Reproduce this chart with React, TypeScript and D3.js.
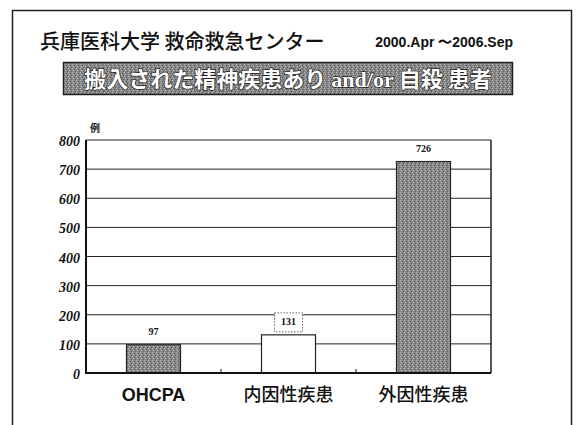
import React from 'react';
import * as d3 from 'd3';

const categories = ['OHCPA', '内因性疾患', '外因性疾患'];
const values = [97, 131, 726];
const barFills = ['#8e8e8e', '#ffffff', '#8e8e8e'];
const yTicks = [0, 100, 200, 300, 400, 500, 600, 700, 800];

const W = 577;
const H = 425;
const plot = { left: 86, right: 491, top: 140, bottom: 373 };

const App: React.FC = () => {
  const x = d3.scaleBand<string>()
    .domain(categories)
    .range([plot.left, plot.right])
    .paddingInner(0.6)
    .paddingOuter(0.3);

  const band = d3.scaleBand<string>()
    .domain(categories)
    .range([plot.left, plot.right]);

  const y = d3.scaleLinear()
    .domain([0, 800])
    .range([plot.bottom, plot.top]);

  const serif = '"Liberation Serif", "DejaVu Serif", serif';
  const jp = '"Noto Sans CJK JP", "Noto Sans", sans-serif';
  const sans = '"Liberation Sans", Arial, sans-serif';

  return (
    <svg width={W} height={H} style={{ position: 'absolute', left: 0, top: 0 }}>
      <defs>
        <pattern id="speckle" width="4" height="4" patternUnits="userSpaceOnUse">
          <rect width="4" height="4" fill="#888" />
          <rect x="0" y="0" width="1" height="1" fill="#b4b4b4" />
          <rect x="2" y="1" width="1" height="1" fill="#585858" />
          <rect x="1" y="2" width="1" height="1" fill="#c0c0c0" />
          <rect x="3" y="3" width="1" height="1" fill="#606060" />
        </pattern>
      </defs>
      <rect width={W} height={H} fill="#fff" />
      {/* frame */}
      <rect x={12.5} y={10.5} width={559} height={430} fill="none" stroke="#222" strokeWidth={1.5} />

      {/* header */}
      <text x={40} y={49} fontFamily={jp} fontSize={20} fontWeight={500} fill="#111">兵庫医科大学 救命救急センター</text>
      <text x={513} y={47} textAnchor="end" fontFamily={sans}
        fontSize={14} fontWeight="bold" fill="#111">2000.Apr 〜2006.Sep</text>

      <rect x={63.5} y={62.5} width={449} height={32} fill="url(#speckle)" stroke="#222" strokeWidth={1.5} />
      <text x={288} y={87} textAnchor="middle" fontFamily={jp} fontSize={22} fontWeight="bold"
        fill="#fff" stroke="#222" strokeWidth={1.4} paintOrder="stroke">
        搬入された精神疾患あり <tspan fontFamily={serif}>and/or</tspan> 自殺 患者
      </text>

      {/* gridlines */}
      {yTicks.filter(t => t > 0).map(t => (
        <line key={t} x1={plot.left} x2={plot.right} y1={y(t)} y2={y(t)} stroke="#222" strokeWidth={1} />
      ))}
      <line x1={plot.right} x2={plot.right} y1={plot.top} y2={plot.bottom} stroke="#222" strokeWidth={1.5} />

      {/* bars */}
      {categories.map((c, i) => (
        <rect key={c} x={x(c)} y={y(values[i])} width={x.bandwidth()} height={plot.bottom - y(values[i])}
          fill={barFills[i] === '#ffffff' ? '#fff' : 'url(#speckle)'} stroke="#222" strokeWidth={1.2} />
      ))}

      {/* axes */}
      <line x1={plot.left} x2={plot.left} y1={plot.top} y2={plot.bottom + 1} stroke="#111" strokeWidth={2} />
      <line x1={plot.left} x2={plot.right} y1={plot.bottom} y2={plot.bottom} stroke="#111" strokeWidth={2} />
      {categories.slice(1).map(c => (
        <line key={c} x1={band(c)} x2={band(c)} y1={plot.bottom} y2={plot.bottom - 4} stroke="#111" strokeWidth={1} />
      ))}

      {/* y tick labels */}
      {yTicks.map(t => (
        <text key={t} x={80} y={y(t) + 6} textAnchor="end" fontFamily={serif} fontStyle="italic"
          fontWeight="bold" fontSize={14} fill="#111">{t}</text>
      ))}
      <text x={95} y={132} textAnchor="middle" fontFamily={jp} fontSize={10} fontWeight="bold" fill="#222">例</text>

      {/* value labels */}
      {categories.map((c, i) => {
        const cx = (x(c) ?? 0) + x.bandwidth() / 2;
        const cy = y(values[i]) - 13;
        return (
          <g key={c}>
            {i === 1 && (
              <rect x={cx - 14} y={cy - 9} width={28} height={19} fill="#fff" stroke="#444"
                strokeWidth={0.8} strokeDasharray="1.5,1.5" />
            )}
            <text x={cx} y={cy + 3.5} textAnchor="middle" fontFamily={serif} fontWeight="bold"
              fontSize={10} fill="#111">{values[i]}</text>
          </g>
        );
      })}

      {/* category labels */}
      {categories.map(c => (
        <text key={c} x={(band(c) ?? 0) + band.bandwidth() / 2} y={401} textAnchor="middle"
          fontFamily={c === 'OHCPA' ? sans : jp} fontWeight={c === 'OHCPA' ? 'bold' : 500}
          fontSize={18} fill="#111">{c}</text>
      ))}
    </svg>
  );
};

export default App;
